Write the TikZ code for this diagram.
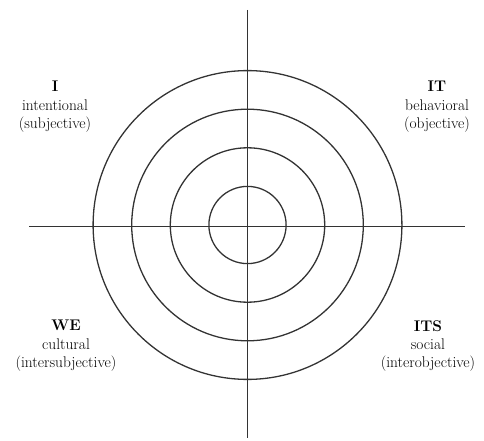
\documentclass[tikz,border=0pt]{standalone}
\usepackage{xcolor}
\usetikzlibrary{positioning}

\begin{document}
\begin{tikzpicture}[
	x=1bp, y=-1bp,
	% line styles
	axis/.style={line width=1.3pt, black!80},
	ring/.style={line width=1.3pt, black!80},
	% text style
	quad label/.style={align=center, font=\fontsize{15.5}{18.5}\selectfont, inner sep=0pt, text=black}
	]
	\useasboundingbox (0,0) rectangle (484,441);
	
	% center of the rings
	\coordinate (C) at (247.5,225);
	
	% axes
	\draw[axis] (247.5,10) -- (247.5,438);
	\draw[axis] (29,226.5) -- (465,226.5);
	
	% rings
	\foreach \r in {1,...,4}
		\draw[ring] (C) circle[radius=38.6*\r];
	
	% quadrant labels
	\node[quad label] (lblI) at (55,107) {\textbf{I}\\intentional\\(subjective)};
	\node[quad label] (lblIT) at (437,107) {\textbf{IT}\\behavioral\\(objective)};
	\node[quad label] (lblWE) at (66,346) {\textbf{WE}\\cultural\\(intersubjective)};
	\node[quad label] (lblITS) at (428,346) {\textbf{ITS}\\social\\(interobjective)};
	
\end{tikzpicture}
\end{document}
